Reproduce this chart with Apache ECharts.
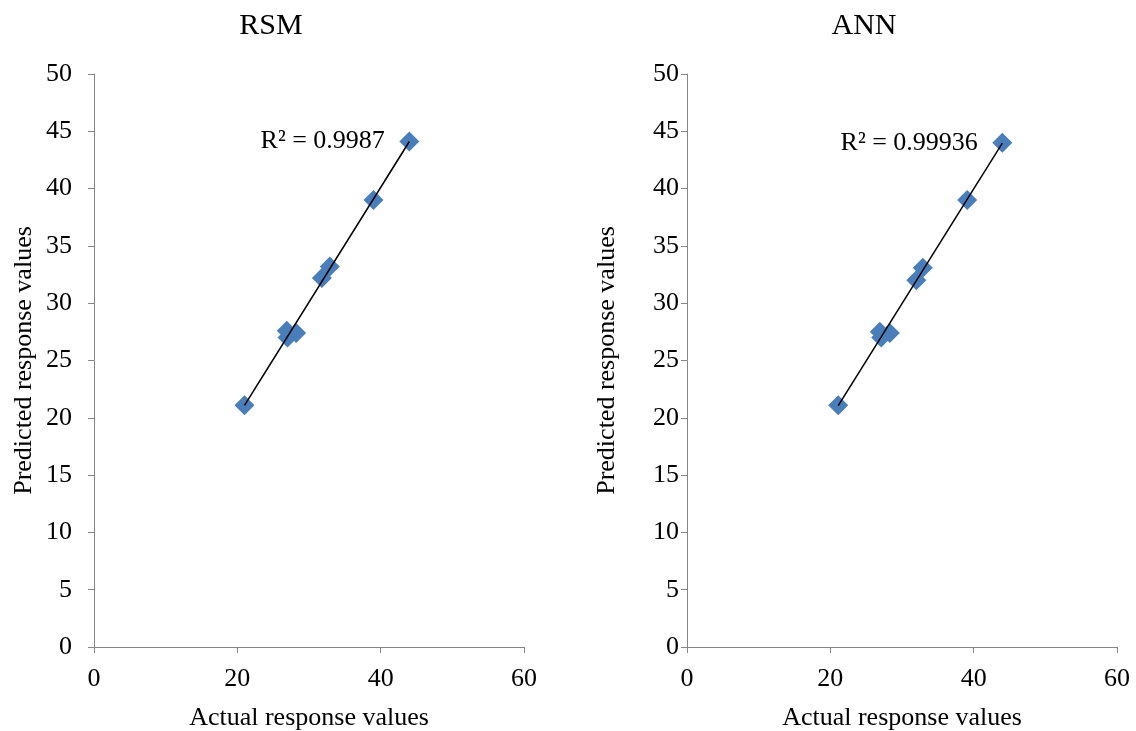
<!DOCTYPE html>
<html>
<head>
<meta charset="utf-8">
<script src="https://cdn.jsdelivr.net/npm/echarts@6/dist/echarts.min.js"></script>
<style>
html,body{margin:0;padding:0;background:#fff;}
#chart{width:1136px;height:731px;}
</style>
</head>
<body>
<div id="chart"></div>
<script>
// ---- data ----
var panelTitles = ['RSM', 'ANN'];
var r2Labels = ['R\u00b2 = 0.9987', 'R\u00b2 = 0.99936'];
var rsmActual    = [21.0, 27.0, 26.9, 28.2, 31.8, 32.9, 39.0, 44.0];
var rsmPredicted = [21.1, 27.0, 27.6, 27.4, 32.2, 33.2, 39.0, 44.1];
var annActual    = [21.1, 27.1, 26.9, 28.3, 32.0, 32.9, 39.1, 44.0];
var annPredicted = [21.1, 27.0, 27.5, 27.4, 32.0, 33.1, 39.0, 44.0];
var xTicks = [0, 20, 40, 60];
var yTicks = [0, 5, 10, 15, 20, 25, 30, 35, 40, 45, 50];
var xAxisName = 'Actual response values';
var yAxisName = 'Predicted response values';

function pairs(xs, ys){ return xs.map(function(x,i){ return [x, ys[i]]; }); }
function fit(xs, ys){
  var n = xs.length, sx=0, sy=0, sxx=0, sxy=0;
  for (var i=0;i<n;i++){ sx+=xs[i]; sy+=ys[i]; sxx+=xs[i]*xs[i]; sxy+=xs[i]*ys[i]; }
  var b = (n*sxy - sx*sy)/(n*sxx - sx*sx);
  var a = (sy - b*sx)/n;
  var mn = Math.min.apply(null, xs), mx = Math.max.apply(null, xs);
  return [[mn, a+b*mn], [mx, a+b*mx]];
}

var font = '"Liberation Serif", "Times New Roman", serif';
var axisColor = '#868686';
var panels = [[rsmActual, rsmPredicted], [annActual, annPredicted]];
var gridLefts = [94, 687];
var titleCenters = [266, 859];
var yLabelMargins = [22, 8];
var yNameGaps = [57, 67];

var option = {
  backgroundColor: '#ffffff',
  animation: false,
  title: panelTitles.map(function(t, i){
    return { text: t, left: titleCenters[i], top: 6, textAlign: 'center',
      textStyle: { fontFamily: font, fontSize: 30, fontWeight: 'normal', color: '#000' } };
  }),
  grid: gridLefts.map(function(l){
    return { left: l, top: 74, width: 430, height: 573, containLabel: false, outerBoundsMode: 'none' };
  }),
  xAxis: gridLefts.map(function(l, i){
    return {
      type: 'value', gridIndex: i, min: xTicks[0], max: xTicks[xTicks.length-1], interval: 20,
      name: xAxisName, nameLocation: 'middle', nameGap: 58,
      nameTextStyle: { fontFamily: font, fontSize: 26, color: '#000' },
      axisLine: { show: true, lineStyle: { color: axisColor, width: 1 } },
      axisTick: { show: true, inside: false, length: 6, lineStyle: { color: axisColor } },
      axisLabel: { fontFamily: font, fontSize: 26, color: '#000', margin: 19 },
      splitLine: { show: false }
    };
  }),
  yAxis: gridLefts.map(function(l, i){
    return {
      type: 'value', gridIndex: i, min: yTicks[0], max: yTicks[yTicks.length-1], interval: 5,
      name: yAxisName, nameLocation: 'middle', nameGap: yNameGaps[i],
      nameTextStyle: { fontFamily: font, fontSize: 26, color: '#000' },
      axisLine: { show: true, lineStyle: { color: axisColor, width: 1 } },
      axisTick: { show: true, inside: false, length: 6, lineStyle: { color: axisColor } },
      axisLabel: { fontFamily: font, fontSize: 26, color: '#000', margin: yLabelMargins[i] },
      splitLine: { show: false }
    };
  }),
  series: []
};

panels.forEach(function(p, i){
  var line = fit(p[0], p[1]);
  option.series.push({
    type: 'scatter', xAxisIndex: i, yAxisIndex: i, data: pairs(p[0], p[1]),
    symbol: 'diamond', symbolSize: 20,
    itemStyle: { color: '#4a7ebb', opacity: 1 }, z: 2
  });
  option.series.push({
    type: 'line', xAxisIndex: i, yAxisIndex: i, data: line,
    showSymbol: false, symbol: 'none',
    lineStyle: { color: '#000', width: 1.5 }, z: 3
  });
  option.series.push({
    type: 'scatter', xAxisIndex: i, yAxisIndex: i, data: [line[1]],
    symbolSize: 1, itemStyle: { color: 'rgba(0,0,0,0)' }, silent: true, z: 4,
    label: { show: true, position: 'left', distance: 24, formatter: r2Labels[i],
      fontFamily: font, fontSize: 26, color: '#000', opacity: 1 }
  });
});

var chart = echarts.init(document.getElementById('chart'), null, { renderer: 'canvas' });
chart.setOption(option);
</script>
</body>
</html>
